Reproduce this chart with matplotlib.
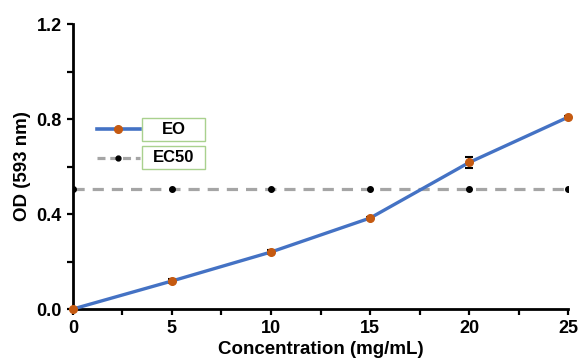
import matplotlib.pyplot as plt
from matplotlib.ticker import MultipleLocator
from matplotlib.patches import Rectangle

plt.rcParams['font.family'] = ['Liberation Sans', 'DejaVu Sans']

# data
conc = [0, 5, 10, 15, 20, 25]
od_eo = [0.0, 0.118, 0.240, 0.383, 0.617, 0.808]
od_err = [0.0, 0.008, 0.008, 0.005, 0.025, 0.004]
ec50 = [0.505, 0.505, 0.505, 0.505, 0.505, 0.505]
legend_labels = ["EO", "EC50"]

BLUE = "#4472C4"
ORANGE = "#C55A11"
GRAY = "#A5A5A5"

fig = plt.figure(figsize=(5.78, 3.64), dpi=100)
ax = fig.add_axes([0.126, 0.151, 0.857, 0.783])

ax.plot(conc, ec50, linestyle=(0, (3.5, 2.5)), color=GRAY, linewidth=2.3,
        marker="o", markersize=4, markerfacecolor="black", markeredgecolor="black",
        zorder=2)
ax.errorbar(conc, od_eo, yerr=od_err, fmt="none", ecolor="black",
            elinewidth=1.2, capsize=3, capthick=1.5, zorder=3)
ax.plot(conc, od_eo, color=BLUE, linewidth=2.4, marker="o", markersize=5.5,
        markerfacecolor=ORANGE, markeredgecolor=ORANGE, zorder=4, clip_on=False)

ax.set_xlim(0, 25)
ax.set_ylim(0, 1.2)
ax.xaxis.set_major_locator(MultipleLocator(5))
ax.xaxis.set_minor_locator(MultipleLocator(2.5))
ax.yaxis.set_major_locator(MultipleLocator(0.4))
ax.yaxis.set_minor_locator(MultipleLocator(0.2))
ax.set_yticklabels([f"{v:.1f}" for v in ax.get_yticks()])

for s in ["top", "right"]:
    ax.spines[s].set_visible(False)
for s in ["left", "bottom"]:
    ax.spines[s].set_linewidth(2)

ax.tick_params(which="both", direction="out", width=1.6, length=4.5, labelsize=13)
for lbl in ax.get_xticklabels() + ax.get_yticklabels():
    lbl.set_fontweight("bold")

ax.set_xlabel("Concentration (mg/mL)", fontsize=13.5, fontweight="bold", labelpad=3)
ax.set_ylabel("OD (593 nm)", fontsize=13.5, fontweight="bold", labelpad=4)

# legend drawn by hand: line sample + boxed label
rows = [0.630, 0.531]
ax.plot([0.048, 0.135], [rows[0]] * 2, transform=ax.transAxes, color=BLUE,
        linewidth=2.6, clip_on=False)
ax.plot([0.091], [rows[0]], transform=ax.transAxes, marker="o", markersize=5.5,
        color=ORANGE, clip_on=False)
ax.plot([0.048, 0.135], [rows[1]] * 2, transform=ax.transAxes, color=GRAY,
        linewidth=2.3, linestyle=(0, (2.5, 1.5)), clip_on=False)
ax.plot([0.091], [rows[1]], transform=ax.transAxes, marker="o", markersize=3.5,
        color="black", clip_on=False)
for y, lab in zip(rows, legend_labels):
    ax.add_patch(Rectangle((0.139, y - 0.040), 0.128, 0.080, transform=ax.transAxes,
                           facecolor="white", edgecolor="#A9D18E", linewidth=1,
                           clip_on=False, zorder=5))
    ax.text(0.203, y, lab, transform=ax.transAxes, ha="center", va="center",
            fontsize=12, fontweight="bold", zorder=6)

fig.savefig("out.png", dpi=100)
